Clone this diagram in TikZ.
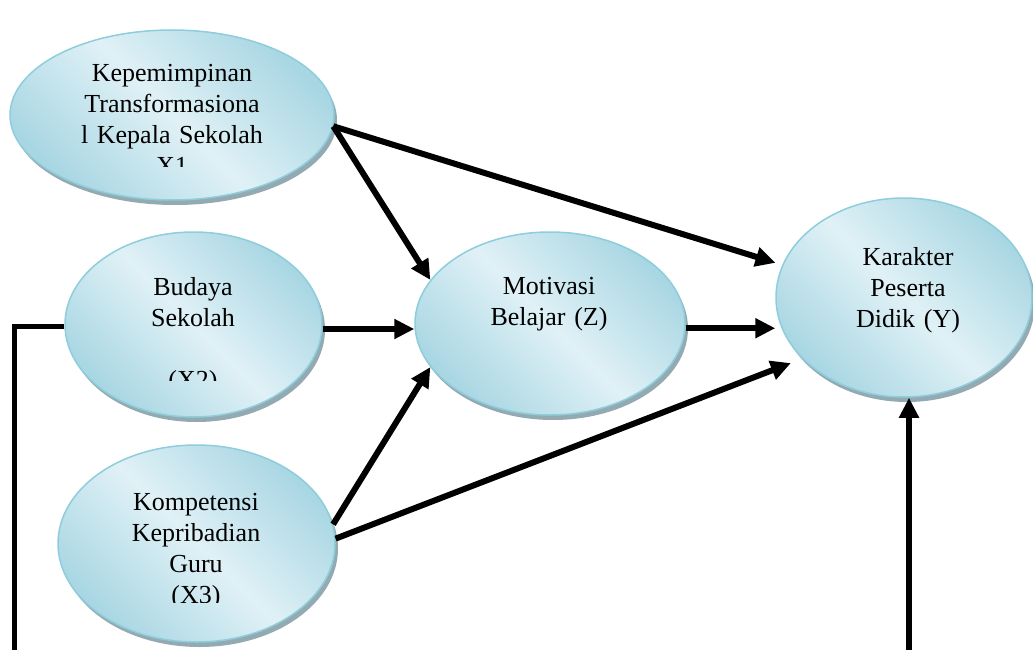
\documentclass[tikz,border=0pt]{standalone}
\usepackage{fontspec}
\setmainfont{Liberation Serif}
\usetikzlibrary{arrows.meta,shadows,shapes.geometric}
\definecolor{edgec}{HTML}{8ECDDB}
\definecolor{litec}{HTML}{E0F1F6}
\definecolor{darkc}{HTML}{A8D6E3}
\definecolor{shadc}{HTML}{93AAB2}
\tikzset{
  var/.style={ellipse, draw=edgec, line width=1.5pt, inner sep=0pt,
    top color=darkc, bottom color=darkc, middle color=litec, shading angle=-45,
    general shadow={fill=shadc, shadow xshift=3pt, shadow yshift=-5pt}},
  lbl/.style={font=\fontsize{26}{31}\selectfont, text width=300pt, align=center,
    anchor=base, inner sep=0pt},
  arr/.style={line width=6pt, -{Triangle[length=20pt,width=19pt]}},
  ln/.style={line width=5pt}
}
\begin{document}
\begin{tikzpicture}[x=1pt,y=-1pt]
\clip (0,0) rectangle (1033,650);
% ellipses
\node[var, minimum width=324pt, minimum height=170pt] (x1) at (172,115) {};
\node[var, minimum width=257pt, minimum height=185pt] (x2) at (193.5,324.5) {};
\node[var, minimum width=277pt, minimum height=197pt] (x3) at (196.5,543.5) {};
\node[var, minimum width=270pt, minimum height=183pt] (z) at (550,323.5) {};
\node[var, minimum width=256pt, minimum height=199pt] (y) at (904,297.5) {};
% labels
\begin{scope}
  \clip (0,0) rectangle (360,166);
  \node[lbl] (t1) at (172,82) {Kepemimpinan\\Transformasiona\\l Kepala Sekolah\\X1};
\end{scope}
\begin{scope}
  \clip (50,230) rectangle (340,380);
  \node[lbl] (t2) at (193,295) {Budaya\\Sekolah\\[31pt](X2)};
\end{scope}
\begin{scope}
  \clip (40,440) rectangle (345,602);
  \node[lbl] (t3) at (196,510) {Kompetensi\\Kepribadian\\Guru\\(X3)};
\end{scope}
\node[lbl] (t4) at (549,294) {Motivasi\\Belajar (Z)};
\node[lbl] (t5) at (908,265) {Karakter\\Peserta\\Didik (Y)};
% connectors
\draw[arr] (x1.-4) -- (z.160);
\draw[arr, shorten >=7pt] (x1.-4) -- (y.165);
\draw[arr] (x2.358.5) -- (x2.358.5 -| z.west);
\draw[arr] (z.358.5) -- (z.358.5 -| y.west);
\draw[arr] (x3.8) -- (z.200);
\draw[arr, shorten >=12pt] (x3.2) -- (y.211);
\coordinate (yb) at (909,650);
\draw[arr] (yb) -- (yb |- y.south);
\coordinate (lb) at (14,650);
\draw[ln] (x2.181.5) -- (x2.181.5 -| lb) -- (lb);
\end{tikzpicture}
\end{document}
